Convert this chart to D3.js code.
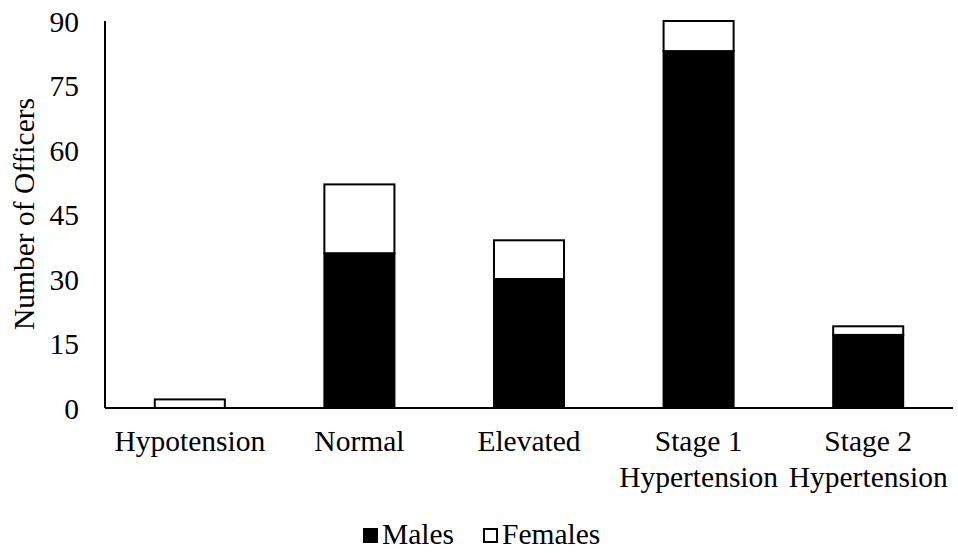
<!DOCTYPE html>
<html>
<head>
<meta charset="utf-8">
<script src="https://cdn.jsdelivr.net/npm/d3@7/dist/d3.min.js"></script>
<style>
  html, body { margin: 0; padding: 0; background: #fff; }
  text { font-family: "Liberation Serif", "Times New Roman", serif; fill: #000; }
</style>
</head>
<body>
<svg id="chart" width="958" height="553"></svg>
<script>
const categories = [["Hypotension"], ["Normal"], ["Elevated"], ["Stage 1", "Hypertension"], ["Stage 2", "Hypertension"]];
const males   = [0, 36, 30, 83, 17];
const females = [2, 16, 9, 7, 2];
const yTicks  = [0, 15, 30, 45, 60, 75, 90];
const seriesNames = ["Males", "Females"];
const seriesFill  = ["#000000", "#ffffff"];

const svg = d3.select("#chart");
const plotLeft = 105, plotRight = 953, plotTop = 21, plotBottom = 408;
const fontSize = "29.5px";

const x = d3.scaleBand().domain(d3.range(categories.length)).range([plotLeft, plotRight]).paddingInner(0.587).paddingOuter(0.2935);
const y = d3.scaleLinear().domain([0, 90]).range([plotBottom, plotTop]);

const rows = categories.map((c, i) => ({ i, males: males[i], females: females[i] }));
const stacked = d3.stack().keys(["males", "females"])(rows);

// stacked bars
stacked.forEach((layer, k) => {
  svg.append("g").selectAll("rect").data(layer).join("rect")
    .attr("x", d => x(d.data.i))
    .attr("width", x.bandwidth())
    .attr("y", d => y(d[1]))
    .attr("height", d => y(d[0]) - y(d[1]))
    .attr("fill", seriesFill[k])
    .attr("stroke", "#000")
    .attr("stroke-width", 2)
    .style("display", d => d[1] - d[0] > 0 ? null : "none");
});

// y axis
const yAxis = svg.append("g").attr("transform", `translate(${plotLeft},0)`)
  .call(d3.axisLeft(y).tickValues(yTicks).tickSize(0).tickPadding(26));
yAxis.select(".domain").attr("stroke", "#000").attr("stroke-width", 2).attr("d", `M0,${plotTop}V${plotBottom}`);
yAxis.selectAll("text").style("font-size", fontSize).attr("dy", "0.34em");

// x axis line
svg.append("line").attr("x1", plotLeft).attr("x2", plotRight).attr("y1", plotBottom).attr("y2", plotBottom)
  .attr("stroke", "#000").attr("stroke-width", 2);

// category labels
const xl = svg.append("g");
categories.forEach((lines, i) => {
  const cx = x(i) + x.bandwidth() / 2;
  const t = xl.append("text").attr("text-anchor", "middle").style("font-size", fontSize)
    .attr("x", cx).attr("y", 451);
  lines.forEach((s, j) => t.append("tspan").attr("x", cx).attr("dy", j === 0 ? 0 : 36).text(s));
});

// y title
svg.append("text").attr("transform", "translate(34,214) rotate(-90)")
  .attr("text-anchor", "middle").style("font-size", fontSize).text("Number of Officers");

// legend
const legend = svg.append("g");
const legX = [363, 483];
seriesNames.forEach((n, k) => {
  legend.append("rect").attr("x", legX[k] + 1).attr("y", 529).attr("width", 13).attr("height", 13)
    .attr("fill", seriesFill[k]).attr("stroke", "#000").attr("stroke-width", 2);
  legend.append("text").attr("x", legX[k] + 19).attr("y", 544).style("font-size", fontSize).text(n);
});
</script>
</body>
</html>
